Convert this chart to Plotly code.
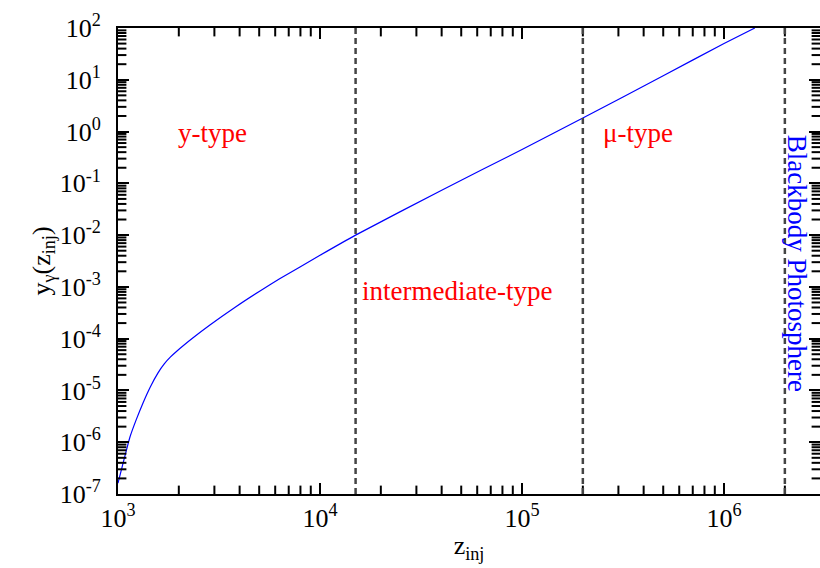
import math
import plotly.graph_objects as go

# Data
z_inj = [1000, 1072, 1146, 1230, 1330, 1445, 1578, 1698, 1820, 1959, 2344, 2851, 3802, 5047, 6310,
         10000, 15000, 39800, 100000, 200000, 500000, 1000000, 1420000]
y_gamma = [1.62e-7, 4.7e-7, 1.26e-6, 2.7e-6, 5.75e-6, 1.17e-5, 2.19e-5, 3.30e-5, 4.45e-5, 5.79e-5,
           1.03e-4, 1.84e-4, 4.06e-4, 8.36e-4, 1.43e-3, 4.08e-3, 1.0e-2, 7.3e-2, 0.45, 1.82, 12, 50, 100]

boundaries = [1.5e4, 2.0e5, 2.0e6]

X_RANGE = [1e3, 10 ** 6.475]
Y_RANGE = [1e-7, 1e2]

x_ticks = [1e3, 1e4, 1e5, 1e6]
x_labels = ["10<sup>3</sup>", "10<sup>4</sup>", "10<sup>5</sup>", "10<sup>6</sup>"]
y_exps = [2, 1, 0, -1, -2, -3, -4, -5, -6, -7]
y_ticks = [10.0 ** e for e in y_exps]
PAD = '<span style="font-size:20px;color:rgba(255,255,255,0)">0</span>'
y_labels = ["10<sup>%d</sup>" % e + PAD for e in y_exps]

labels_red = ["y-type", "intermediate-type", "μ-type"]
labels_red_x = [2.95e3, 4.76e4, 3.75e5]
labels_red_y = [0.93, 8.3e-4, 0.93]

label_blue = "Blackbody Photosphere"
label_blue_x = 2.3e6
label_blue_y = 2.9e-3

FONT = "Liberation Serif"

x_minor = [m * 10.0 ** d for d in range(3, 7) for m in range(2, 10) if m * 10.0 ** d < X_RANGE[1]]
y_minor = [m * 10.0 ** d for d in range(-7, 2) for m in range(2, 10)]

fig = go.Figure()
fig.add_trace(go.Scatter(x=z_inj, y=y_gamma, mode="lines",
                         line=dict(color="#0000ff", width=1.2, shape="spline", smoothing=0.5),
                         showlegend=False))

# minor tick marks on all four sides (clipped to the plot area, so only the inner half shows)
tick_marker_v = dict(symbol="line-ns", size=12, line=dict(width=2, color="black"), color="black")
tick_marker_h = dict(symbol="line-ew", size=12, line=dict(width=2, color="black"), color="black")
for edge in Y_RANGE:
    fig.add_trace(go.Scatter(x=x_minor, y=[edge] * len(x_minor), mode="markers", marker=tick_marker_v,
                             cliponaxis=True, showlegend=False, hoverinfo="skip"))
for edge in X_RANGE:
    fig.add_trace(go.Scatter(x=[edge] * len(y_minor), y=y_minor, mode="markers", marker=tick_marker_h,
                             cliponaxis=True, showlegend=False, hoverinfo="skip"))

for b in boundaries:
    fig.add_shape(type="line", xref="x", yref="paper", x0=b, x1=b, y0=0, y1=1,
                  line=dict(color="#444444", width=2.5, dash="6px,4px"))

for t, x, y in zip(labels_red, labels_red_x, labels_red_y):
    fig.add_annotation(x=math.log10(x), y=math.log10(y), text=t, showarrow=False,
                       font=dict(family=FONT, size=27, color="#ff0000"))

fig.add_annotation(x=math.log10(label_blue_x), y=math.log10(label_blue_y), text=label_blue,
                   showarrow=False, textangle=90, font=dict(family=FONT, size=27, color="#0000ff"))

axis_common = dict(type="log", showgrid=False, zeroline=False, showline=True, linecolor="black", linewidth=2,
                   mirror="ticks", ticks="inside", ticklen=11, tickwidth=2, tickcolor="black",
                   tickfont=dict(family=FONT, size=26, color="black"), automargin=False)

fig.update_layout(
    xaxis=dict(range=[math.log10(v) for v in X_RANGE], tickmode="array", tickvals=x_ticks, ticktext=x_labels,
               title=dict(text="z<sub>inj</sub>", font=dict(family=FONT, size=26, color="black"), standoff=4),
               **axis_common),
    yaxis=dict(range=[math.log10(v) for v in Y_RANGE], tickmode="array", tickvals=y_ticks, ticktext=y_labels,
               title=dict(text="y<sub>γ</sub>(z<sub>inj</sub>)", font=dict(family=FONT, size=26, color="black"), standoff=2),
               **axis_common),
    width=820, height=568, margin=dict(l=118, r=0, t=28, b=74),
    plot_bgcolor="white", paper_bgcolor="white",
)

fig.write_html("out.html")
